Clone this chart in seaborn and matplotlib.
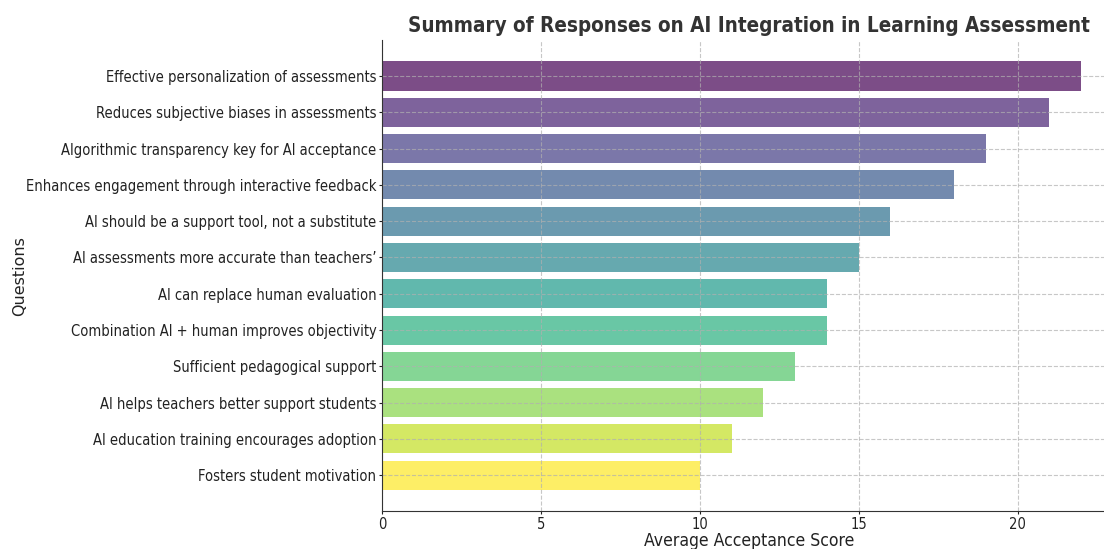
import numpy as np
import pandas as pd
import matplotlib
matplotlib.use("Agg")
import matplotlib.pyplot as plt
import seaborn as sns

# survey questions (top to bottom) and their average acceptance scores
questions = [
    "Effective personalization of assessments",
    "Reduces subjective biases in assessments",
    "Algorithmic transparency key for AI acceptance",
    "Enhances engagement through interactive feedback",
    "AI should be a support tool, not a substitute",
    "AI assessments more accurate than teachers\u2019",
    "AI can replace human evaluation",
    "Combination AI + human improves objectivity",
    "Sufficient pedagogical support",
    "AI helps teachers better support students",
    "AI education training encourages adoption",
    "Fosters student motivation",
]
scores = [22, 21, 19, 18, 16, 15, 14, 14, 13, 12, 11, 10]

df = pd.DataFrame({"Question": questions, "Score": scores})

# viridis sampled over the full range, dark at the top
colors = [plt.cm.viridis(v) for v in np.linspace(0, 1, len(questions))]

fig = plt.figure(figsize=(11.04, 5.49), dpi=100)
ax = fig.add_axes([0.346, 0.069, 0.665, 0.858])

sns.barplot(data=df, y="Question", x="Score", hue="Question", palette=colors,
            saturation=1, alpha=0.7, width=0.8, legend=False, ax=ax)

ax.set_ylim(len(questions) - 1 + 0.99, -0.99)
ax.set_xlim(0, 23.1)
ax.set_xticks([0, 5, 10, 15, 20])

ax.grid(True, linestyle="--", alpha=0.7)
ax.set_axisbelow(False)
for s in ["top", "right"]:
    ax.spines[s].set_visible(False)
for s in ["left", "bottom"]:
    ax.spines[s].set_zorder(4)
    ax.spines[s].set_color("#333333")

ax.tick_params(labelsize=10.5, colors="#222222", length=2.5)
ax.tick_params(axis="y", pad=1.5)
ax.tick_params(axis="x", pad=2)
for lab in ax.get_yticklabels() + ax.get_xticklabels():
    lab.set_fontstretch("condensed")
ax.set_title("Summary of Responses on AI Integration in Learning Assessment",
             fontsize=14.8, fontweight="bold", fontstretch="condensed",
             color="#333333", pad=6)
ax.set_xlabel("Average Acceptance Score", fontsize=12.6, fontstretch="condensed",
              color="#222222", labelpad=0)
ax.set_ylabel("Questions", fontsize=11.5, color="#222222")
ax.yaxis.set_label_coords(-0.484, 0.5)

fig.savefig("out.png", dpi=100)
